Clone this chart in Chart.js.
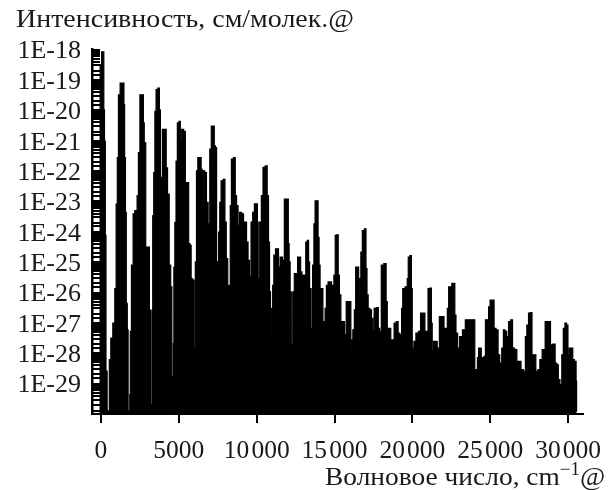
<!DOCTYPE html>
<html>
<head>
<meta charset="utf-8">
<title>Спектр</title>
<script src="https://cdn.jsdelivr.net/npm/chart.js@4"></script>
<style>
  html, body { margin: 0; padding: 0; background: #fff; }
  canvas { display: block; }
</style>
</head>
<body>
<canvas id="chart" width="615" height="490"></canvas>
<script>
const yTitle = "Интенсивность, см/молек.@";
const xTitleMain = "Волновое число, cm";
const xTitleSup = "−1";
const xTitleEnd = "@";

const xTickValues = [0, 5000, 10000, 15000, 20000, 25000, 30000];
const xTickLabels = ["0", "5000", "10\u200a000", "15\u200a000", "20\u200a000", "25\u200a000", "30\u200a000"];
const yTickExponents = [-18, -19, -20, -21, -22, -23, -24, -25, -26, -27, -28, -29];
const yTickLabels = ["1E-18", "1E-19", "1E-20", "1E-21", "1E-22", "1E-23", "1E-24", "1E-25", "1E-26", "1E-27", "1E-28", "1E-29"];

// envelope of the spectrum
const wavenumbers = [
  -107, 0, 86, 171, 193, 257, 299, 342, 385, 406, 492, 577, 684, 834, 940, 1005, 1090, 1154, 1304, 1453,
  1496, 1539, 1603, 1646, 1731, 1753, 1838, 1859, 1902, 2009, 2116, 2223, 2287, 2351, 2458, 2543, 2714, 2736, 2821, 2928,
  3077, 3142, 3206, 3248, 3291, 3355, 3419, 3505, 3569, 3719, 3783, 3847, 3889, 3996, 4167, 4210, 4338, 4424, 4531, 4573,
  4595, 4637, 4659, 4702, 4787, 4851, 4958, 5065, 5129, 5236, 5385, 5449, 5599, 5663,
  5769, 5812, 5962, 5983, 6026, 6090, 6175, 6261, 6389, 6474, 6517, 6603, 6731, 6816, 6945, 7030, 7137, 7244, 7308, 7393,
  7457, 7522, 7586, 7671, 7757, 7928, 7992, 8099, 8184, 8270, 8334, 8419, 8590, 8654, 8761, 8846, 8953, 9124, 9188, 9295,
  9402, 9488, 9594, 9680, 9808, 9894, 10022, 10065, 10129, 10257, 10342, 10471, 10620, 10727, 10791, 10855, 10919, 11005, 11048, 11155,
  11261, 11368, 11432,
  11581, 11731, 11816, 12008, 12051, 12115, 12179, 12265, 12372, 12457, 12607, 12649, 12799, 12842, 12970, 13055, 13120, 13184, 13312, 13355,
  13440, 13547, 13632, 13718, 13782, 13910, 13974, 14039, 14103, 14210, 14295, 14359, 14423, 14530, 14637, 14786, 14829, 14893, 15022, 15064,
  15214, 15257, 15363, 15449, 15577, 15705, 15791, 16026, 16069, 16133, 16218, 16325, 16389, 16517, 16582, 16646, 16731, 16838, 16988, 17052,
  17116, 17201, 17329, 17415, 17500, 17586, 17778, 17842,
  17948, 18055, 18269, 18354, 18418, 18568, 18653, 18782, 18867, 19059, 19102, 19273, 19337, 19423, 19636, 19701, 19765, 19914, 19957, 20021,
  20171, 20278, 20491, 20555, 20769, 20833, 20983, 21025, 21196, 21239, 21303, 21410, 21517, 21667, 21795, 21987, 22073, 22201, 22286, 22372,
  22692, 22756, 22842, 22970, 23098, 23333, 23462, 23932,
  23974, 24038, 24145, 24209, 24294, 24401, 24444, 24551, 24657, 24722, 24850, 24935, 25042, 25213, 25277, 25469, 25534, 25683, 25790, 25897,
  26004, 26111, 26239, 26388, 26474, 26645, 26773, 26923, 27030, 27222, 27286, 27414, 27500, 27649, 27713, 27863, 27991, 28141, 28226, 28440,
  28611, 28825, 28910, 29124, 29209, 29337, 29402, 29551, 29637, 29743, 29850, 29957, 30021, 30128, 30278, 30321, 30492, 30534, 30555
];
const logIntensity = [
  -19.05, -18.50, -18.07, -18.07, -19.98, -21.01, -24.12, -28.59, -28.59, -29.90, -29.90, -28.21, -27.50, -27.01, -25.87, -23.09, -21.56, -19.49, -19.10, -19.10,
  -19.81, -21.56, -23.36, -26.36, -27.23, -29.90, -29.90, -29.36, -27.28, -25.10, -23.41, -23.30, -24.61, -22.81, -21.39, -19.49, -19.49, -20.41, -21.07, -24.50,
  -24.50, -26.58, -29.68, -29.68, -26.58, -23.47, -22.05, -20.03, -19.32, -19.27, -19.98, -22.21, -22.21, -20.63, -20.63, -21.89, -22.76, -25.10, -25.81, -28.76,
  -29.90, -29.90, -27.67, -25.16, -23.69, -21.67, -20.41, -20.36, -21.01, -20.63, -20.69, -22.38, -22.38, -24.39,
  -24.45, -25.54, -25.59, -27.83, -27.83, -24.99, -21.99, -21.56, -21.56, -21.94, -23.25, -21.99, -22.05, -23.03, -23.74, -21.28, -20.52, -20.52, -21.17, -21.23,
  -24.99, -25.97, -24.01, -23.03, -22.32, -22.27, -23.68, -24.88, -25.76, -25.76, -23.14, -21.61, -21.56, -22.81, -23.14, -23.79, -23.36, -23.41, -23.68, -23.68,
  -24.34, -24.94, -25.48, -23.68, -23.36, -23.08, -23.08, -23.68, -25.54, -23.68, -22.81, -21.88, -21.83, -22.81, -24.34, -25.97, -26.52, -27.45, -25.76, -24.77,
  -24.56, -24.56, -25.16,
  -24.83, -24.94, -22.92, -22.92, -24.39, -24.99, -25.98, -27.72, -25.98, -25.38, -25.38, -24.83, -24.83, -25.32, -25.43, -26.47, -25.43, -24.34, -24.28, -24.99,
  -25.87, -27.18, -25.10, -23.74, -22.98, -22.98, -24.18, -25.10, -25.87, -25.87, -26.96, -27.83, -26.52, -25.76, -25.65, -25.65, -27.39, -25.76, -25.43, -24.12,
  -24.10, -25.43, -26.08, -26.96, -26.96, -27.39, -26.30, -26.30, -27.56, -27.88, -27.23, -26.57, -25.16, -25.16, -25.54, -26.30, -24.67, -23.96, -23.90, -25.21,
  -26.08, -26.52, -26.57, -26.85, -27.23, -26.52, -26.50, -27.18,
  -27.28, -25.10, -25.05, -26.30, -27.18, -27.18, -27.56, -27.56, -27.01, -26.96, -27.34, -27.39, -26.52, -25.87, -25.81, -25.54, -24.83, -24.78, -25.87, -27.83,
  -27.61, -27.34, -27.28, -26.68, -26.68, -27.28, -27.28, -25.87, -25.85, -27.01, -27.94, -27.61, -27.61, -27.83, -26.79, -26.79, -27.18, -27.18, -26.52, -25.81,
  -25.70, -26.74, -27.34, -27.83, -27.45, -27.23, -26.90, -26.90,
  -26.90, -28.54, -28.54, -28.14, -27.83, -27.83, -28.38, -28.14, -28.10, -26.90, -26.90, -26.47, -26.25, -26.25, -27.18, -27.23, -28.05, -28.32, -27.83, -27.23,
  -27.28, -27.45, -26.96, -26.90, -27.83, -27.88, -28.27, -28.27, -28.54, -28.59, -27.45, -27.07, -26.68, -26.66, -28.05, -28.05, -28.59, -28.54, -28.21, -27.88,
  -26.96, -26.96, -27.72, -27.70, -28.32, -28.38, -28.87, -29.03, -28.05, -27.18, -27.01, -27.07, -28.05, -27.83, -27.83, -28.21, -28.27, -28.92, -29.90
];

const fontFamily = '"Liberation Serif", serif';
const textColor = "#1a1a1a";

// the two captions sit outside the plot and one has a superscript, so they are drawn by hand
const captions = {
  id: "captions",
  afterDraw(chart) {
    let ctx = chart.ctx;
    ctx.save();
    ctx.fillStyle = textColor;
    ctx.textBaseline = "alphabetic";
    ctx.textAlign = "left";
    ctx.font = "26px " + fontFamily;

    ctx.save();
    ctx.translate(16, 27);
    ctx.scale(1.075, 1);
    ctx.fillText(yTitle, 0, 0);
    ctx.restore();

    ctx.save();
    ctx.translate(325, 485);
    ctx.scale(1.055, 1);
    let x = 0;
    ctx.fillText(xTitleMain, x, 0);
    x += ctx.measureText(xTitleMain).width;
    ctx.font = "18px " + fontFamily;
    ctx.fillText(xTitleSup, x, -10);
    x += ctx.measureText(xTitleSup).width;
    ctx.font = "26px " + fontFamily;
    ctx.fillText(xTitleEnd, x, 0);
    ctx.restore();
    ctx.restore();
  }
};

let chart = new Chart(document.getElementById("chart").getContext("2d"), {
  type: "line",
  data: {
    datasets: [{
      data: wavenumbers.map((w, i) => ({ x: w, y: Math.pow(10, logIntensity[i]) })),
      borderColor: "#000",
      backgroundColor: "#000",
      borderWidth: 1.2,
      pointRadius: 0,
      stepped: "middle",
      fill: "start"
    }]
  },
  options: {
    responsive: false,
    animation: false,
    layout: { padding: { top: 49.6, right: 31, left: 0, bottom: 0 } },
    plugins: { legend: { display: false }, tooltip: { enabled: false } },
    scales: {
      x: {
        type: "linear",
        min: -577,
        max: 30960,
        afterBuildTicks(scale) {
          scale.ticks = xTickValues.map(v => ({ value: v }));
        },
        afterFit(scale) { scale.height = 76; },
        border: { display: true, color: "#000", width: 2 },
        // lineWidth has to match tickWidth or the ticks land between pixels and go grey
        grid: { drawOnChartArea: false, drawTicks: true, tickLength: 9, lineWidth: 2, tickWidth: 2, tickColor: "#000" },
        ticks: {
          color: textColor,
          font: { family: fontFamily, size: 25.5 },
          padding: 13,
          maxRotation: 0,
          autoSkip: false,
          callback(value) {
            return xTickLabels[xTickValues.indexOf(value)];
          }
        }
      },
      y: {
        type: "logarithmic",
        min: 1.26e-30,
        max: 1e-18,
        afterFit(scale) { scale.width = 92; },
        border: { display: true, color: "#000", width: 2.5 },
        grid: { drawOnChartArea: false, drawTicks: true, tickLength: -8, lineWidth: 2, tickWidth: 2, tickColor: "#000" },
        ticks: {
          color: textColor,
          font: { family: fontFamily, size: 26 },
          padding: 19,
          labelOffset: 2,
          autoSkip: false,
          callback(value) {
            let e = Math.round(Math.log10(value));
            if (Math.abs(Math.log10(value) - e) > 0.001) return "";
            let i = yTickExponents.indexOf(e);
            return i < 0 ? "" : yTickLabels[i];
          }
        }
      }
    }
  },
  plugins: [captions]
});
</script>
</body>
</html>
